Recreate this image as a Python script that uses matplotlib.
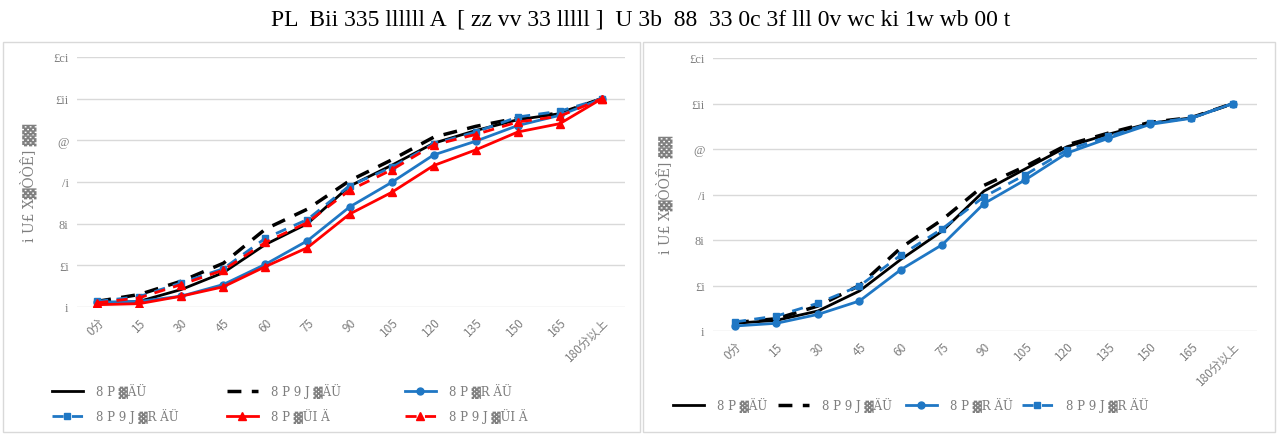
import numpy as np
import matplotlib.pyplot as plt
from matplotlib.patches import Rectangle

# categories (minutes)
categories = ['0分', '15', '30', '45', '60', '75', '90', '105', '120', '135', '150', '165', '180分以上']

# left panel series
black_solid_L = [1.6, 2.7, 8.4, 16.5, 30, 40, 58, 68, 78.6, 84.7, 89.9, 92.8, 100]
black_dash_L = [2.7, 6, 12.4, 21, 37.4, 47, 60.6, 70.6, 81.5, 86.7, 90.7, 93, 100]
blue_solid_L = [2.3, 2.7, 5.2, 10.8, 20.5, 31.8, 48, 59.8, 73, 79.6, 87.1, 92, 100]
blue_dash_L = [2.7, 5, 11.6, 18.4, 33, 42, 58.2, 67, 78.3, 84, 91.2, 94, 100]
red_solid_L = [1.1, 1.6, 5.2, 9.7, 19.4, 28.5, 44.6, 55, 67.9, 75.4, 84, 88, 100]
red_dash_L = [2, 4.4, 10.8, 17.7, 31, 40.6, 56, 65.8, 77.8, 82.8, 88.8, 91.6, 100]

# right panel series
black_solid_R = [3.4, 4.7, 8.8, 17.6, 31.5, 44, 61.5, 71.3, 81, 86.5, 91.3, 93.7, 100]
black_dash_R = [3.7, 5.4, 11, 20, 36.6, 49, 64, 72.4, 81.8, 87, 91.7, 93.8, 100]
blue_solid_R = [2.2, 3.4, 7.3, 13.2, 27, 38, 56, 66.5, 78.2, 84.7, 90.8, 93.5, 100]
blue_dash_R = [4, 6.6, 12.2, 19.8, 33.4, 45, 59, 68.7, 79.6, 85.5, 91.3, 93.7, 100]

# labels as rendered in the source (garbled glyphs)
labels = ['8 P ▓ÄÜ', '8 P 9 J ▓ÄÜ', '8 P ▓R ÄÜ', '8 P 9 J ▓R ÄÜ', '8 P ▓ÜI Ä', '8 P 9 J ▓ÜI Ä']
yticks = [0, 20, 40, 60, 80, 100, 120]
ytick_labels = ['i', '£i', '8i', '/i', '@', '£ii', '£ci']
ylabel = 'i U£ X▓ÒÒÊ] ▓▓'
title = 'PL  Bii 335 llllll A  [ zz vv 33 lllll ]  U 3b  88  33 0c 3f lll 0v wc ki 1w wb 00 t'

BLACK = '#000000'
BLUE = '#1F77C4'
RED = '#FF0000'
GRID = '#D9D9D9'
TXT = '#7F7F7F'
cjk = ['Noto Sans CJK JP', 'DejaVu Sans']
serif = ['DejaVu Serif', 'DejaVu Sans']

fig = plt.figure(figsize=(12.82, 4.35), dpi=100)

# panel frames
for x0, w in [(3, 637), (643, 632)]:
    fig.patches.append(Rectangle((x0 / 1282, 2 / 435), w / 1282, 390 / 435,
                                 transform=fig.transFigure, fill=False,
                                 edgecolor='#D9D9D9', lw=1))

fig.text(0.5, 1 - 20 / 435, title, ha='center', va='center', fontsize=17,
         family='Liberation Serif')

axL = fig.add_axes([77 / 1282, 1 - 308 / 435, 548 / 1282, 250 / 435])
axR = fig.add_axes([713 / 1282, 1 - 332 / 435, 544 / 1282, 273 / 435])

x = np.arange(len(categories))
lw = 2.0
dash = (0, (4, 3))


def style(ax, xl):
    ax.set_ylim(0, 120)
    ax.set_xlim(*xl)
    ax.set_yticks(yticks)
    ax.set_yticklabels(ytick_labels, color=TXT, fontsize=9, family='Liberation Serif')
    ax.set_xticks(x)
    ax.set_xticklabels(categories, rotation=45, ha='right', rotation_mode='anchor',
                       color=TXT, fontsize=8.5, family=cjk)
    ax.grid(axis='y', color=GRID, lw=1)
    ax.set_axisbelow(True)
    for s in ax.spines.values():
        s.set_visible(False)
    ax.tick_params(length=0, pad=6)
    ax.set_ylabel(ylabel, color=TXT, fontsize=10, family=serif, labelpad=12)


# left
axL.plot(x, black_solid_L, color=BLACK, lw=lw, label=labels[0])
axL.plot(x, black_dash_L, color=BLACK, lw=lw + 0.5, ls=dash, label=labels[1])
axL.plot(x, blue_solid_L, color=BLUE, lw=lw, marker='o', ms=5, label=labels[2])
axL.plot(x, blue_dash_L, color=BLUE, lw=lw, ls=dash, marker='s', ms=5, label=labels[3])
axL.plot(x, red_solid_L, color=RED, lw=lw, marker='^', ms=6, label=labels[4])
axL.plot(x, red_dash_L, color=RED, lw=lw, ls=dash, marker='^', ms=6, label=labels[5])
style(axL, (-0.48, 12.55))

# right
axR.plot(x, black_solid_R, color=BLACK, lw=lw, label=labels[0])
axR.plot(x, black_dash_R, color=BLACK, lw=lw + 0.5, ls=dash, label=labels[1])
axR.plot(x, blue_solid_R, color=BLUE, lw=lw, marker='o', ms=5, label=labels[2])
axR.plot(x, blue_dash_R, color=BLUE, lw=lw, ls=dash, marker='s', ms=5, label=labels[3])
style(axR, (-0.53, 12.58))


def entry(h, lab, px, py):
    fig.legend([h], [lab], loc='center left', bbox_to_anchor=(px / 1282, 1 - py / 435),
               frameon=False, borderpad=0, borderaxespad=0, handlelength=2.6,
               handletextpad=1.1, prop={'family': serif, 'size': 8.5}, labelcolor=TXT)


hL, lL = axL.get_legend_handles_labels()
posL = [(52, 392), (227, 392), (405, 392), (52, 417), (227, 417), (405, 417)]
for h, lab, (px, py) in zip(hL, lL, posL):
    entry(h, lab, px, py)

hR, lR = axR.get_legend_handles_labels()
posR = [(673, 406), (778, 406), (906, 406), (1022, 406)]
for h, lab, (px, py) in zip(hR, lR, posR):
    entry(h, lab, px, py)

fig.savefig('out.png', dpi=100)
